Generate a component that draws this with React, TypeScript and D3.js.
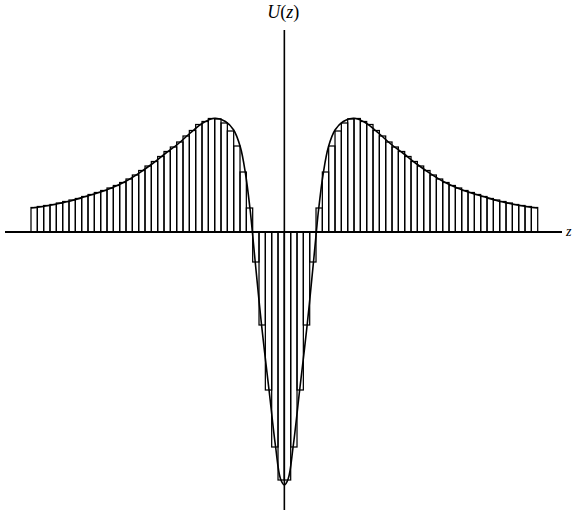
import React from "react";
import * as d3 from "d3";

// Bar values U for z-intervals [i, i+1], i = -40 .. 39
const barValuesLeft = [
  24.5, 25.5, 26.5, 27.5, 29, 30.5, 32, 33.5, 35.5, 37.5,
  39.5, 41.5, 44, 46.5, 49.5, 53, 57, 61.5, 66, 70.5,
  75.5, 80.5, 85, 90, 96, 101.5, 107.5, 110.5, 113.5, 113,
  109, 101, 86, 60, 24, -30, -93, -158, -215, -248,
];
const barValuesRight = [
  -248, -215, -158, -93, -30, 24, 60, 86, 101, 109,
  113, 113.5, 110.5, 107.5, 101.5, 96, 90, 85, 80.5, 75.5,
  70.5, 66, 61.5, 57, 53, 49.5, 46.5, 44, 41.5, 39.5,
  37.5, 35.5, 33.5, 32, 30.5, 29, 27.5, 26.5, 25.5, 24.5,
];

// Smooth curve samples
const curveZ = [
  -40, -37.7, -35.6, -33.5, -31.4, -29.3, -27.2, -25.1, -23.0, -20.9,
  -18.8, -16.8, -14.85, -12.75, -10.9, -9.3, -8.0, -6.95, -6.15, -5.4,
  -5.05, -4.6, -3.6, -2.4, -1.4, -0.6, 0,
  0.6, 1.4, 2.4, 3.6, 4.6, 5.05, 5.4, 6.15, 6.95, 8.0,
  9.3, 10.9, 12.75, 14.85, 16.8, 18.8, 20.9, 23.0, 25.1, 27.2,
  29.3, 31.4, 33.5, 35.6, 37.7, 40,
];
const curveU = [
  24, 26, 28.5, 31.5, 35.5, 39.5, 44.3, 50.5, 58.7, 68,
  78.5, 88, 99, 109.5, 113.7, 110.5, 102, 85, 59, 22,
  0, -30, -93, -159, -214, -247, -253,
  -247, -214, -159, -93, -30, 0, 22, 59, 85, 102,
  110.5, 113.7, 109.5, 99, 88, 78.5, 68, 58.7, 50.5, 44.3,
  39.5, 35.5, 31.5, 28.5, 26, 24,
];

const W = 575;
const H = 510;

export default function App() {
  const x = d3.scaleLinear().domain([-40, 40]).range([31, 537.7]);
  const y = d3.scaleLinear().domain([0, 100]).range([232, 132]);

  const bars = [
    ...barValuesLeft.map((v, k) => ({ z0: -40 + k, v })),
    ...barValuesRight.map((v, k) => ({ z0: k, v })),
  ];

  const pts: [number, number][] = curveZ.map((z, i) => [z, curveU[i]]);
  const line = d3
    .line<[number, number]>()
    .x((d) => x(d[0]))
    .y((d) => y(d[1]))
    .curve(d3.curveCatmullRom.alpha(0.5));

  const x0 = x(0);
  const y0 = y(0);

  return (
    <svg
      width={W}
      height={H}
      style={{ position: "absolute", left: 0, top: 0, background: "#fff" }}
    >
      <rect x={0} y={0} width={W} height={H} fill="#fff" />
      {bars.map((b, i) => {
        const xa = x(b.z0);
        const xb = x(b.z0 + 1);
        const ya = Math.min(y(b.v), y0);
        const h = Math.abs(y(b.v) - y0);
        return (
          <rect
            key={i}
            x={xa}
            y={ya}
            width={xb - xa}
            height={h}
            fill="none"
            stroke="#000"
            strokeWidth={1.25}
          />
        );
      })}
      <path d={line(pts) || ""} fill="none" stroke="#000" strokeWidth={1.6} />
      {/* axes */}
      <line x1={5} x2={562} y1={y0} y2={y0} stroke="#000" strokeWidth={1.9} />
      <line x1={x0} x2={x0} y1={30} y2={H} stroke="#000" strokeWidth={1.6} />
      <text
        x={x0 - 1}
        y={18}
        textAnchor="middle"
        fontFamily="'Liberation Serif', 'DejaVu Serif', serif"
        fontSize={18}
        fill="#000"
      >
        <tspan fontStyle="italic">U</tspan>
        <tspan>(</tspan>
        <tspan fontStyle="italic">z</tspan>
        <tspan>)</tspan>
      </text>
      <text
        x={566}
        y={236}
        fontFamily="'Liberation Serif', 'DejaVu Serif', serif"
        fontStyle="italic"
        fontSize={14}
        fill="#000"
      >
        z
      </text>
    </svg>
  );
}
